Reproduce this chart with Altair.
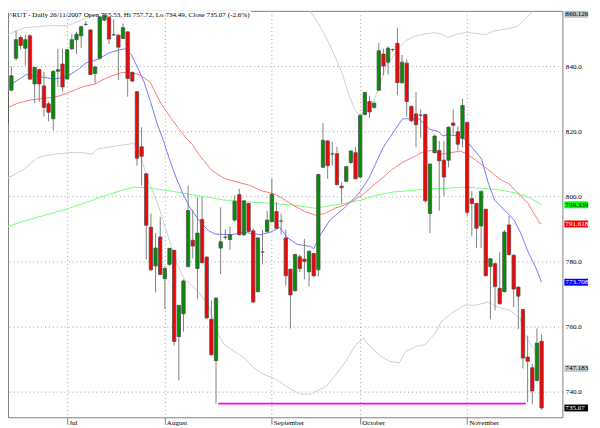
import altair as alt
import pandas as pd

# ---------------- data ----------------
opens = [822.6, 832.7, 842.5, 848.9, 845.6, 849.4, 834.6, 839.0, 834.0, 828.5,
         823.9, 838.5, 840.7, 836.1, 845.4, 848.2, 849.4, 852.9, 851.2, 837.8,
         842.5, 854.2, 855.0, 849.7, 849.6, 848.6, 850.6, 838.1, 832.2, 815.3,
         807.0, 790.6, 778.7, 787.6, 774.8, 779.2, 783.5, 757.0, 764.0, 778.5,
         786.6, 777.9, 793.0, 781.4, 762.3, 749.6, 784.2, 787.5, 786.8, 792.8,
         800.6, 788.3, 797.9, 789.5, 770.8, 783.0, 789.3, 792.3, 795.4, 792.5,
         787.3, 777.7, 771.1, 781.5, 780.8, 776.9, 782.5, 777.5, 809.0, 817.1,
         813.1, 813.2, 803.2, 804.7, 810.5, 813.5, 806.0, 825.2, 829.2, 827.4,
         832.7, 843.8, 841.3, 845.2, 847.1, 835.0, 841.0, 827.7, 825.4, 825.0,
         825.2, 794.8, 813.5, 814.2, 811.2, 811.2, 822.6, 819.9, 817.9, 822.8,
         799.4, 797.9, 791.0, 796.1, 778.5, 779.4, 771.8, 770.8, 791.3, 782.0,
         772.2, 765.3, 750.7, 747.4, 743.5, 755.53]
highs = [833.0, 840.0, 850.9, 849.5, 849.6, 849.9, 839.8, 839.3, 838.3, 829.2,
         838.8, 845.4, 845.4, 845.4, 849.9, 850.6, 852.6, 853.9, 851.4, 840.3,
         855.5, 856.0, 855.3, 854.4, 849.9, 853.2, 850.8, 838.5, 832.4, 821.3,
         807.2, 794.8, 788.8, 793.8, 778.7, 784.2, 783.7, 766.6, 774.6, 803.4,
         796.0, 799.9, 799.9, 781.7, 768.1, 769.1, 796.7, 790.0, 790.8, 800.4,
         802.4, 798.9, 798.1, 790.2, 787.6, 789.8, 795.6, 805.5, 798.4, 794.8,
         789.8, 777.9, 782.5, 782.2, 787.0, 783.5, 782.7, 807.0, 822.6, 817.3,
         816.9, 815.3, 804.4, 809.5, 814.2, 815.3, 825.2, 832.2, 831.0, 829.2,
         847.2, 845.4, 846.2, 845.5, 851.9, 843.5, 842.1, 828.0, 832.1, 826.7,
         825.5, 810.2, 819.1, 817.1, 817.1, 821.6, 826.7, 821.6, 830.0, 823.0,
         801.7, 798.1, 801.9, 796.3, 781.1, 779.7, 782.9, 789.8, 794.0, 782.2,
         772.4, 765.4, 757.3, 748.6, 759.5, 757.72]
lows = [822.0, 832.4, 841.8, 845.2, 840.3, 835.8, 828.7, 829.2, 824.6, 823.1,
        820.3, 833.7, 832.4, 836.0, 845.0, 843.8, 845.7, 852.4, 837.3, 834.7,
        842.0, 853.9, 846.9, 849.4, 835.8, 848.4, 830.7, 835.1, 809.5, 803.4,
        780.7, 777.2, 770.6, 775.9, 765.4, 778.7, 754.2, 743.5, 758.5, 778.2,
        781.0, 768.6, 779.5, 762.5, 751.2, 736.4, 776.2, 786.8, 783.7, 792.3,
        788.0, 787.8, 789.0, 767.4, 770.6, 779.2, 788.8, 792.0, 790.0, 788.3,
        772.6, 759.5, 770.8, 776.9, 774.6, 772.4, 775.2, 775.5, 808.8, 805.5,
        809.5, 803.4, 797.9, 804.4, 810.0, 805.2, 805.8, 825.0, 824.1, 827.0,
        832.4, 837.3, 837.5, 844.5, 831.2, 834.7, 824.6, 822.9, 815.1, 818.1,
        798.1, 788.8, 813.2, 795.7, 800.1, 809.0, 819.1, 814.2, 815.1, 794.0,
        787.8, 784.2, 784.2, 775.5, 762.3, 765.1, 766.8, 770.6, 781.9, 766.1,
        759.3, 747.2, 736.8, 736.3, 743.3, 734.49]
closes = [832.4, 837.1, 848.2, 846.4, 848.2, 836.1, 839.7, 834.6, 827.4, 825.9,
          838.5, 839.0, 833.7, 845.1, 848.2, 849.9, 852.2, 852.9, 837.5, 839.8,
          855.2, 855.7, 848.4, 849.7, 845.9, 851.9, 836.3, 835.5, 811.8, 812.4,
          791.2, 777.5, 784.2, 776.1, 777.9, 784.1, 755.5, 766.6, 774.1, 795.7,
          784.8, 788.8, 779.7, 762.7, 751.4, 768.8, 786.1, 787.5, 788.3, 798.6,
          788.3, 798.7, 789.3, 767.6, 787.3, 783.0, 792.8, 800.7, 790.3, 792.5,
          775.7, 769.8, 782.2, 777.9, 780.1, 783.2, 775.7, 806.8, 817.3, 809.5,
          813.1, 803.7, 802.7, 809.2, 814.0, 805.5, 825.0, 832.0, 826.0, 828.7,
          844.8, 840.1, 845.6, 845.2, 835.0, 841.3, 829.2, 823.3, 822.1, 825.0,
          798.7, 810.0, 818.6, 811.0, 806.0, 821.3, 821.9, 816.1, 828.0, 795.2,
          797.9, 790.3, 801.6, 775.7, 780.9, 772.4, 767.1, 789.1, 782.2, 771.6,
          769.4, 750.4, 749.4, 740.3, 755.0, 735.07]

month_idx = [13, 34, 57, 76, 99]
month_names = ["Jul", "August", "September", "October", "November"]
price_ticks = [740, 760, 780, 800, 820, 840]

blue_i = [0, 1.75, 4.2, 7.3, 10.1, 12.9, 15.6, 17, 19.8, 21.9, 24, 25.4, 26.7, 28.1, 29.5,
          30.9, 32.3, 33.7, 35.1, 36.5, 37.9, 39.3, 41.3, 43.4, 44.8, 48.3, 51.1, 54.5, 56.6,
          58.7, 60.4, 62.5, 65.3, 66, 67.2, 69.5, 72.9, 75.7, 77.8, 78.8, 80.9, 83, 85.1, 88.6,
          89.6, 91, 92.7, 93.8, 94.8, 96.9, 98.6, 100.7, 102.1, 103.5, 104.9, 106.3, 107.7,
          109.1, 110.5, 112.2, 113.6, 115]
blue_v = [833.7, 835.2, 837.5, 836.8, 836.1, 836.8, 839.3, 841.0, 842.3, 844.1, 845.0, 845.4,
          843.8, 839.8, 835.3, 829.2, 822.6, 817.1, 811.0, 805.5, 800.9, 796.8, 792.8, 789.5,
          788.5, 788.3, 789.0, 788.3, 789.0, 790.5, 787.3, 785.3, 784.7, 784.0, 787.7, 792.8,
          796.9, 800.9, 805.5, 808.5, 815.0, 819.5, 823.9, 823.9, 822.6, 820.6, 820.1, 818.6,
          819.1, 818.6, 817.5, 814.0, 811.5, 804.4, 798.9, 796.9, 794.8, 792.8, 788.8, 782.7,
          778.7, 773.7]
red_i = [0, 2.4, 5.2, 8, 10.8, 12.9, 15, 17, 19.1, 20.5, 22.6, 24.7, 26.7, 28.8, 30.9, 33,
         35.1, 37.2, 38.6, 39.9, 41.3, 44.1, 46.9, 49.7, 52.4, 54.5, 57.3, 59.4, 61.5, 64.3,
         66.3, 68.4, 70.5, 72.6, 74.7, 76.8, 78.8, 80.9, 83, 85.1, 87.2, 89.2, 91.3, 93.4,
         95.5, 97.6, 99, 101, 103.8, 105.9, 108, 110, 112.1, 114.6, 115]
red_v = [827.2, 828.7, 829.7, 830.2, 830.7, 831.7, 833.0, 834.0, 834.6, 835.8, 837.1, 838.1,
         838.1, 837.3, 835.0, 829.0, 824.5, 820.5, 818.0, 816.0, 813.0, 808.0, 805.5, 804.4,
         803.4, 801.9, 800.9, 799.4, 797.4, 795.3, 794.3, 794.8, 796.4, 797.4, 798.9, 800.9,
         803.4, 805.9, 808.5, 810.5, 812.0, 813.5, 814.2, 813.0, 813.5, 814.0, 813.0, 811.0,
         808.0, 805.5, 803.9, 800.9, 797.9, 791.8, 791.6]
green_i = [0, 3.8, 8, 12.2, 16.3, 20.5, 24.7, 27.4, 30.2, 34.4, 38.6, 42.7, 46.9, 51, 55.2,
           62.2, 66.3, 69.5, 72.6, 76.1, 79.5, 83, 87.2, 91.3, 95, 98.3, 101, 103.8, 106.6,
           109.4, 112.1, 115]
green_v = [790.7, 792.5, 794.2, 795.9, 797.8, 800.0, 801.9, 802.9, 802.7, 801.9, 800.9, 799.9,
           798.9, 798.5, 798.1, 797.3, 796.4, 797.2, 797.9, 798.9, 800.4, 801.4, 801.9, 802.4,
           802.6, 802.9, 802.7, 802.4, 801.9, 801.1, 799.9, 797.5]
upper_i = [0, 3.8, 10.1, 12.9, 15.6, 17.7, 19.5, 20.5, 22.6, 26, 30, 35, 40, 45, 50, 55, 60,
           63.9, 66, 68.1, 70.2, 72.2, 73.6, 75, 76, 77.1, 78.8, 80.2, 81.6, 83, 84.4, 85.8,
           87.9, 89.9, 92, 93.4, 94.8, 96.9, 98.6, 100.7, 102.8, 104.9, 107.7, 109.7, 111.8,
           113.9, 115]
upper_v = [849.7, 851.9, 852.6, 852.4, 853.9, 855.3, 856.0, 857.7, 859.0, 863.0, 870.0, 878.0,
           885.0, 888.0, 885.0, 878.0, 868.0, 859.5, 855.5, 850.5, 844.4, 837.5, 831.0, 826.3,
           825.2, 826.3, 829.0, 834.2, 840.3, 842.8, 845.9, 847.9, 849.4, 849.9, 850.4, 849.9,
           848.9, 849.9, 850.4, 850.2, 849.7, 850.9, 851.6, 852.2, 855.0, 858.0, 860.1]
lower_i = [0, 3.8, 6.6, 10.1, 13.6, 16.3, 18.4, 19.5, 23.6, 26.4, 27.1, 28.5, 29.9, 31.3, 32.7,
           34.0, 35.4, 36.8, 38.2, 39.25, 41.3, 43.4, 45.5, 46.9, 49, 51.1, 53.1, 55.2, 57.3,
           59, 61.1, 63.2, 65.3, 66.7, 68.8, 70.8, 72.9, 75, 76.7, 78.1, 80.2, 82.3, 84.4,
           85.8, 87.9, 89.9, 92, 93.4, 95.5, 97.6, 98.6, 100.7, 103.5, 105.6, 108.3, 110.4,
           111.5, 113.5, 115]
lower_v = [805.5, 808.5, 812.0, 813.0, 813.5, 813.5, 813.0, 814.7, 815.6, 816.1, 816.6, 814.0,
           807.0, 801.9, 796.9, 790.8, 784.7, 778.7, 774.6, 773.4, 770.6, 766.6, 757.5, 754.4,
           752.4, 750.4, 747.4, 745.4, 744.3, 742.8, 740.8, 739.3, 739.3, 740.3, 741.8, 745.4,
           749.4, 754.4, 756.5, 754.0, 751.2, 749.4, 748.9, 752.4, 753.9, 754.6, 757.8, 761.5,
           764.0, 766.0, 766.7, 766.6, 767.6, 766.0, 765.0, 762.5, 757.0, 753.0, 747.2]

end_labels = ["860.126", "799.339", "791.618", "773.708", "747.183", "735.07"]

support_level = 736.4
support_from = 45.5
support_to = 111.6

title_text = "^RUT - Daily 26/11/2007 Open 755.53, Hi 757.72, Lo 734.49, Close 735.07 (-2.6%)"

# ---------------- styling ----------------
FONT = "Liberation Serif"
FS = 7.2
box_fill = ["#c0c0c0", "#00ff00", "#ff0000", "#0000ff", "#c8c8c8", "#000000"]
box_text = ["#000000", "#000000", "#ffffff", "#ffffff", "#000000", "#ffffff"]
series_names = ["upper", "lower", "ma200", "ma50", "ma20"]
series_colors = ["#cfcfcf", "#cfcfcf", "#77ff77", "#ff7777", "#7777ff"]

n = len(opens)
candles = pd.DataFrame({"i": list(range(n)), "o": opens, "h": highs, "l": lows, "c": closes})

lines = pd.concat([
    pd.DataFrame({"i": upper_i, "v": upper_v, "s": "upper"}),
    pd.DataFrame({"i": lower_i, "v": lower_v, "s": "lower"}),
    pd.DataFrame({"i": green_i, "v": green_v, "s": "ma200"}),
    pd.DataFrame({"i": red_i, "v": red_v, "s": "ma50"}),
    pd.DataFrame({"i": blue_i, "v": blue_v, "s": "ma20"}),
], ignore_index=True)

# each tag sits at the last value of its line (close for the black one)
tag_at = [upper_v[-1], green_v[-1], red_v[-1], blue_v[-1], lower_v[-1], closes[-1]]
labels = pd.DataFrame({"v": tag_at, "t": end_labels})
support = pd.DataFrame({"a": [support_from], "b": [support_to], "lv": [support_level]})
title_df = pd.DataFrame({"t": [title_text]})

xs = alt.Scale(domain=[1.3333, 118.4167], zero=False, nice=False)
ys = alt.Scale(domain=[732.21, 857.06], zero=False, nice=False)

label_expr = ""
for idx, name in zip(month_idx, month_names):
    label_expr += f"datum.value == {idx} ? '{name}' : "
label_expr += "''"

xaxis = alt.Axis(values=month_idx, labelExpr=label_expr, grid=True, gridDash=[1, 3],
                 gridColor="#a0a0a0", ticks=True, tickSize=7, tickColor="#808080",
                 labelAlign="left", labelBaseline="top", labelPadding=-6, labelOffset=1.5,
                 labelFont=FONT, labelFontSize=FS, labelColor="#000000", domain=False,
                 title=None, labelOverlap=False, labelFlush=False)
yaxis = alt.Axis(orient="right", values=price_ticks, format=".1f", grid=True, gridDash=[1, 3],
                 gridColor="#a0a0a0", ticks=False, labelPadding=3, domain=False, title=None,
                 labelFont=FONT, labelFontSize=FS, labelColor="#000000", labelBaseline="middle",
                 labelOverlap=False, labelFlush=False)


def X(f):
    return alt.X(f, type="quantitative", scale=xs, axis=xaxis)


def Y(f):
    return alt.Y(f, type="quantitative", scale=ys, axis=yaxis)


line_layer = alt.Chart(lines).mark_line(clip=True, strokeWidth=1).encode(
    x=X("i"), y=Y("v"),
    color=alt.Color("s:N", scale=alt.Scale(domain=series_names, range=series_colors), legend=None),
    order=alt.Order("i:Q"),
)

support_layer = alt.Chart(support).mark_rule(color="#ff00ff", strokeWidth=1.8).encode(
    x=X("a"), x2="b", y=Y("lv"))

wicks = alt.Chart(candles).mark_rule(color="#808080", strokeWidth=1, clip=True).encode(
    x=X("i"), y=Y("l"), y2="h")

bodies = alt.Chart(candles).transform_calculate(
    dir="datum.c > datum.o ? 'up' : (datum.c < datum.o ? 'down' : 'flat')"
).mark_bar(width=3.4, stroke="#505050", strokeWidth=0.8, clip=True).encode(
    x=X("i"), y=Y("o"), y2="c",
    color=alt.Color("dir:N", scale=alt.Scale(domain=["up", "down", "flat"],
                                             range=["#009000", "#ff0000", "#000000"]), legend=None),
)

label_base = alt.Chart(labels).transform_calculate(
    yc="min(datum.v, 856.0)"
).transform_calculate(
    y1="datum.yc + 1.06", y2="datum.yc - 1.06"
)
label_boxes = label_base.mark_rect().encode(
    x=alt.value(564), x2=alt.value(588), y=Y("y1"), y2="y2",
    color=alt.Color("t:N", scale=alt.Scale(domain=end_labels, range=box_fill), legend=None),
)
label_texts = label_base.mark_text(align="left", baseline="middle", font=FONT, fontSize=FS).encode(
    x=alt.value(565), y=Y("yc"), text="t:N",
    color=alt.Color("t:N", scale=alt.Scale(domain=end_labels, range=box_text), legend=None),
)

title_bg = alt.Chart(title_df).mark_rect(color="white").encode(
    x=alt.value(0), x2=alt.value(246), y=alt.value(0), y2=alt.value(2))
title_layer = alt.Chart(title_df).mark_text(align="left", baseline="middle", font=FONT,
                                            fontSize=FS, color="#000000").encode(
    x=alt.value(1), y=alt.value(4.5), text="t:N")

chart = alt.layer(
    line_layer, support_layer, wicks, bodies, label_boxes, label_texts, title_bg, title_layer
).resolve_scale(color="independent").properties(
    width=562, height=412,
    padding={"left": 0, "top": 0, "right": 30, "bottom": 10},
    autosize=alt.AutoSizeParams(type="none"),
    background="white",
).configure_view(stroke="#808080", strokeWidth=1)

chart.save("out.html", embed_options={"renderer": "svg", "actions": False})
